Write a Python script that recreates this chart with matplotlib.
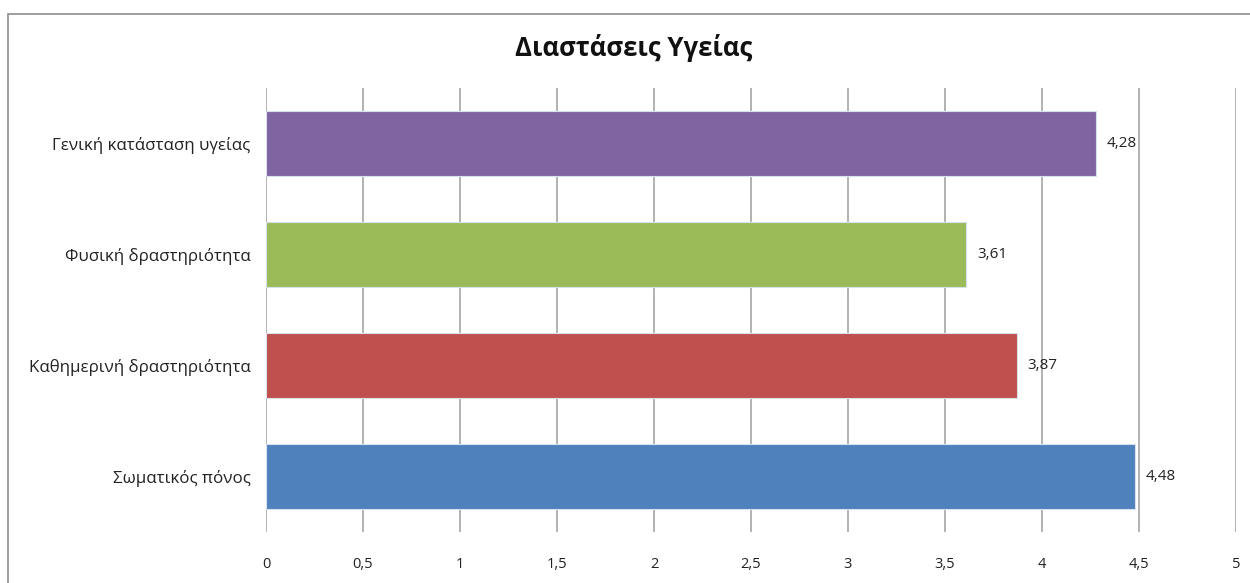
import matplotlib
matplotlib.use('Agg')
import matplotlib.pyplot as plt
from matplotlib.patches import Rectangle
from matplotlib.ticker import FuncFormatter

categories = ['Σωματικός πόνος', 'Καθημερινή δραστηριότητα',
              'Φυσική δραστηριότητα', 'Γενική κατάσταση υγείας']
values = [4.48, 3.87, 3.61, 4.28]
colors = ['#4F81BD', '#C0504D', '#9BBB59', '#8064A2']
xticks = [0, 0.5, 1, 1.5, 2, 2.5, 3, 3.5, 4, 4.5, 5]

plt.rcParams['font.family'] = ['Open Sans', 'DejaVu Sans']


def comma(v, pos=None):
    return ('%g' % v).replace('.', ',')


fig = plt.figure(figsize=(12.5, 5.83), dpi=100)
ax = fig.add_axes([266 / 1250, 1 - 532 / 583, 970 / 1250, 444 / 583])

# chart frame
fig.patches.append(Rectangle((8 / 1250, -0.1), 1.2, 1 - 14 / 583 + 0.1,
                             transform=fig.transFigure, fill=False,
                             ec='#8C8C8C', lw=1.2))

pos = range(len(categories))
ax.barh(pos, values, height=0.58, color=colors, edgecolor='#D8E0EC',
        linewidth=0.8, zorder=3)
for y, v in zip(pos, values):
    ax.text(v + 0.055, y, comma(v), va='center', ha='left', fontsize=11,
            color='#222222')

ax.set_xlim(0, 5)
ax.set_ylim(-0.5, len(categories) - 0.5)
ax.set_xticks(xticks)
ax.xaxis.set_major_formatter(FuncFormatter(comma))
ax.set_yticks(list(pos))
ax.set_yticklabels(categories, fontsize=12.2)
ax.tick_params(axis='both', length=0, colors='#222222')
ax.tick_params(axis='x', pad=18, labelsize=10.5)
ax.tick_params(axis='y', pad=11)
ax.grid(axis='x', color='#A6A6A6', lw=1.2, zorder=0)
for s in ax.spines.values():
    s.set_visible(False)

fig.text(634 / 1250, 1 - 48 / 583, 'Διαστάσεις Υγείας', ha='center',
         va='center', fontsize=18.5, fontweight='bold', color='#111111')

fig.savefig('out.png', dpi=100, facecolor='white')
